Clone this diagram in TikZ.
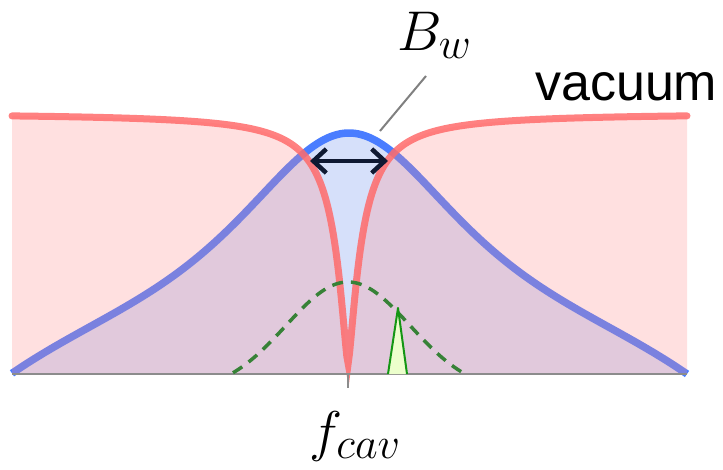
\RequirePackage{fix-cm}
\documentclass[tikz,border=0pt]{standalone}
\usepackage{fontspec}
\newfontfamily\arialfont{Liberation Sans}
\usetikzlibrary{arrows.meta}
\DeclareMathSizes{56}{56}{44}{36}

\definecolor{vacred}{RGB}{255,107,107}
\definecolor{vacfill}{RGB}{255,140,140}
\definecolor{cavblue}{RGB}{74,125,255}
\definecolor{cavfill}{RGB}{214,224,250}
\definecolor{atomgreen}{RGB}{55,130,55}
\definecolor{spikegreen}{RGB}{20,150,20}
\definecolor{spikefill}{RGB}{236,255,204}
\definecolor{arrowink}{RGB}{15,25,50}

\begin{document}
\begin{tikzpicture}[
    % one unit is one pixel of the sketch, y runs downwards
    x=1pt, y=-1pt,
    declare function={
        cavity(\x)=374-241/(1+((\x-349)/148)^2)*(1-(abs(\x-349)/338)^6);
        vacuum(\x)=113+251/(1+pow(abs(\x-348)/14+0.0001,1.4));
        atom(\x)=374-92*(exp(-((\x-348)^2)/7688)-0.168)/0.832;
    },
    cavline/.style={draw=cavblue, line width=7.5pt},
    vacline/.style={draw=vacred, line width=7pt, opacity=0.85, line cap=round},
    atomline/.style={draw=atomgreen, line width=3.5pt, dash pattern=on 11pt off 8pt},
    axisline/.style={draw=gray!90, line width=1.5pt},
    mathlbl/.style={inner sep=0pt, font=\fontsize{56}{60}\selectfont},
    bwarrow/.style={{Straight Barb[length=13pt,width=24pt]}-{Straight Barb[length=13pt,width=24pt]}, draw=arrowink, line width=4.5pt}
]
    \useasboundingbox (0,0) rectangle (723,469);

    % cavity line, filled underneath
    \fill[cavfill] plot[domain=12:687, samples=200] (\x,{cavity(\x)}) -- cycle;
    \draw[cavline] plot[domain=12:687, samples=200] (\x,{cavity(\x)});

    % vacuum transmission with its dip
    \fill[vacfill, opacity=0.27] (12,374) -- plot[domain=12:687, samples=501] (\x,{vacuum(\x)}) -- (687,374) -- cycle;
    \draw[vacline] plot[domain=12:687, samples=501] (\x,{vacuum(\x)});

    \draw[axisline] (12,374) -- (687,374);

    % atom envelope and narrow line
    \draw[atomline] plot[domain=233:463, samples=80] (\x,{atom(\x)});
    \fill[spikefill] (388,374) -- (398,308) -- (407,374) -- cycle;
    \draw[spikegreen, line width=2pt, line join=round] (388,374) -- (398,308) -- (407,374);

    \coordinate (bwl) at (310,161);
    \coordinate (bwr) at (388,161);
    \draw[bwarrow] (bwl) -- (bwr);

    \node[mathlbl, anchor=base west] (bw) at (397,50) {$B_w$};
    \coordinate (bwfoot) at (380,131);
    \coordinate (bwtip) at (426,76);
    \draw[gray, line width=2pt] (bwfoot) -- (bwtip);

    \node[mathlbl, anchor=base] (fcav) at (355,450) {$f_{cav}$};
    \coordinate (fpos) at (348,374);
    \draw[axisline, line width=2pt] (fpos) -- ++(0,14);

    \node[font=\arialfont\fontsize{52}{60}\selectfont, anchor=base west, inner sep=0pt] (vac) at (535,100) {vacuum};
\end{tikzpicture}
\end{document}
